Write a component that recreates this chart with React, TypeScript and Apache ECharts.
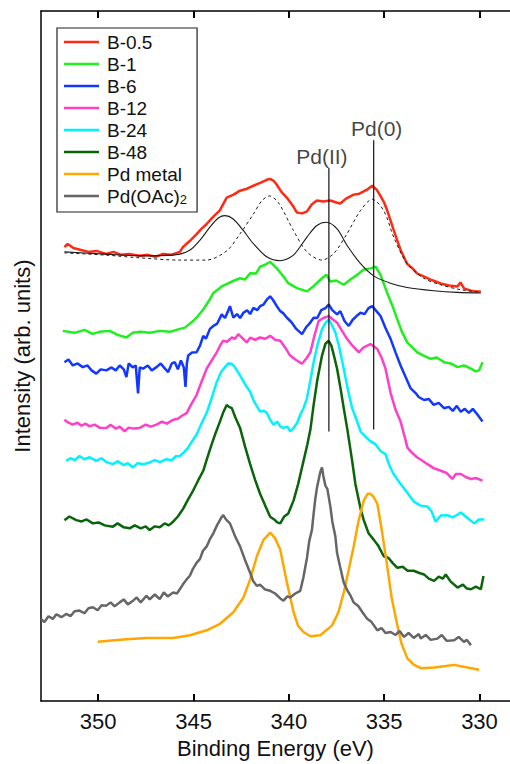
import React, { useEffect, useRef } from "react";
import * as echarts from "echarts";

// Binding energy axis (eV)
const xTicks = [350, 345, 340, 335, 330];
const xMin = 328.4;
const xMax = 353.0;
const yMin = 0;
const yMax = 699;

const seriesNames = ["B-0.5", "B-1", "B-6", "B-12", "B-24", "B-48", "Pd metal", "Pd(OAc)2"];
const seriesColors = ["#ff2a12", "#1ef01e", "#1238ff", "#ff3fc8", "#00f2ff", "#0a640a", "#ffa600", "#666666"];

// [binding energy (eV), intensity (arb. units, offset)]
const b05: number[][] = [
  [351.77, 460], [351.6, 463], [351.3, 459], [350.9, 457], [350.5, 455], [350.1, 456], [349.58, 453], [349.2, 455],
  [348.8, 452], [348.4, 453], [347.83, 451], [347.4, 452], [347.0, 450], [346.6, 453], [346.2, 452], [345.72, 455],
  [345.55, 460], [345.2, 466], [344.84, 473], [344.6, 478], [344.32, 483], [344.0, 490], [343.62, 497], [343.26, 510],
  [342.9, 513], [342.56, 517], [342.2, 519], [341.86, 522], [341.5, 525], [341.16, 528], [340.98, 529], [340.8, 527],
  [340.63, 523], [340.4, 516], [340.11, 510], [339.8, 502], [339.58, 495], [339.3, 494], [339.05, 496], [338.8, 503],
  [338.53, 507], [338.2, 506], [337.83, 507], [337.5, 505], [337.3, 504], [337.0, 509], [336.6, 513], [336.3, 514],
  [335.9, 518], [335.63, 522], [335.4, 518], [335.2, 512], [335.0, 505], [334.84, 497], [334.5, 477], [334.14, 457],
  [333.8, 443], [333.5, 438], [333.26, 433], [332.9, 430], [332.56, 427], [332.3, 425], [332.04, 423], [331.6, 421],
  [331.16, 420], [331.0, 424], [330.81, 418], [330.5, 416], [330.2, 415], [329.93, 415],
];

const fitSolid: number[][] = [
  [351.77, 455], [349.58, 452.7], [347.83, 451], [346.07, 451.7], [345.2, 456.7], [344.67, 466.7], [344.14, 480],
  [343.7, 489.3], [343.35, 491.7], [342.92, 488.3], [342.39, 476.7], [341.86, 463.3], [341.16, 450], [340.46, 446],
  [339.76, 451.7], [339.05, 470], [338.53, 481.7], [338.04, 485], [337.47, 478.3], [336.95, 461.7], [336.25, 443.3],
  [335.55, 430.7], [334.67, 423.3], [333.8, 419], [332.39, 415.7], [331.16, 414], [329.93, 413.3],
];

const fitDashed: number[][] = [
  [351.77, 454], [349.58, 451.7], [347.83, 449], [345.72, 446.7], [344.32, 446.7], [343.26, 456], [342.56, 473.3],
  [341.86, 493.3], [341.42, 506.7], [341.02, 511.7], [340.55, 505], [339.76, 476.7], [339.05, 455], [338.26, 446.7],
  [337.65, 453.3], [336.95, 473.3], [336.25, 496.7], [335.63, 508.3], [335.02, 496.7], [334.5, 470], [333.8, 443.3],
  [332.92, 428.3], [332.04, 421.7], [330.98, 416.7], [329.93, 414.3],
];

const b1: number[][] = [
  [351.86, 375], [351.24, 373], [350.72, 376], [350.3, 372], [349.93, 374], [349.4, 375], [348.98, 371], [348.52, 368.3],
  [348.19, 373], [347.82, 374], [347.29, 373], [346.77, 375], [346.24, 374], [345.72, 377], [345.45, 378.3], [345.02, 385],
  [344.77, 390], [344.49, 396.7], [344.14, 407], [343.96, 413.3], [343.52, 420], [342.99, 425], [342.56, 428.3], [342.3, 427],
  [342.03, 433.3], [341.72, 433], [341.51, 440], [341.24, 442], [340.98, 445], [340.63, 438.3], [340.28, 430], [340.03, 423.3],
  [339.57, 418.3], [339.05, 415], [338.72, 420], [338.26, 428.3], [338.03, 432], [337.82, 425], [337.51, 426], [337.12, 421.7],
  [336.77, 427], [336.42, 431.7], [336.09, 437], [335.72, 438.3], [335.45, 440], [335.19, 431.7], [334.84, 413.3], [334.56, 400],
  [334.31, 386.7], [334.09, 375], [333.79, 363.3], [333.51, 358], [333.26, 353.3], [332.93, 350], [332.56, 346.7], [332.24, 348],
  [331.86, 343.3], [331.51, 342], [331.15, 338.3], [330.82, 340], [330.45, 336.7], [330.19, 334], [330.02, 335], [329.84, 343.3],
];

const b6: number[][] = [
  [351.77, 343.3], [351.56, 346], [351.33, 340], [351.08, 342], [350.81, 338.3], [350.56, 340], [350.35, 335], [350.1, 331.7],
  [349.87, 336], [349.57, 335], [349.3, 338], [349.08, 335], [348.87, 340], [348.66, 336], [348.52, 328.3], [348.4, 342],
  [348.19, 338], [348.03, 340], [347.91, 311.7], [347.82, 338], [347.65, 336.7], [347.4, 340], [347.19, 335], [346.94, 338.3],
  [346.72, 342], [346.51, 337], [346.33, 333.3], [346.14, 342], [345.98, 343.3], [345.82, 336], [345.66, 345], [345.51, 338],
  [345.42, 318.3], [345.35, 342], [345.28, 350], [345.08, 353], [344.84, 353.3], [344.66, 360], [344.49, 370], [344.35, 367],
  [344.14, 377], [343.96, 380], [343.77, 382], [343.52, 391.7], [343.35, 388], [343.19, 395], [343.09, 400], [342.91, 388.3],
  [342.72, 392], [342.56, 388], [342.38, 393.3], [342.19, 396], [342.03, 392], [341.86, 398.3], [341.66, 396], [341.51, 400],
  [341.33, 401.7], [341.14, 407], [340.98, 410], [340.82, 406], [340.63, 400], [340.45, 395], [340.3, 393], [340.1, 388.3],
  [339.87, 384], [339.61, 377], [339.31, 371.7], [339.08, 379], [338.93, 382], [338.7, 388.3], [338.51, 388], [338.3, 396],
  [338.08, 398], [337.91, 401.7], [337.72, 396], [337.47, 391.7], [337.3, 395], [337.08, 385], [336.86, 380], [336.66, 386],
  [336.45, 390], [336.24, 393.3], [336.03, 392], [335.82, 398], [335.63, 400], [335.45, 396], [335.19, 390], [334.93, 378],
  [334.66, 366.7], [334.4, 353], [334.14, 340], [333.87, 328], [333.61, 316.7], [333.35, 312], [333.19, 308], [332.91, 305],
  [332.66, 306], [332.4, 300], [332.14, 302], [331.86, 296.7], [331.61, 298], [331.4, 294], [331.19, 299], [330.98, 293],
  [330.77, 296], [330.56, 292], [330.35, 296], [330.1, 290], [329.84, 283.3],
];

const b12: number[][] = [
  [351.77, 285], [351.56, 282], [351.33, 280], [351.08, 282], [350.87, 279], [350.66, 281], [350.45, 278.3], [350.19, 280],
  [349.93, 277], [349.57, 276.7], [349.35, 280], [349.08, 276], [348.87, 278], [348.61, 273.3], [348.4, 277], [348.14, 276],
  [347.82, 276.7], [347.51, 280], [347.24, 278], [346.94, 280], [346.66, 283], [346.4, 281], [346.07, 285], [345.82, 286],
  [345.61, 289], [345.36, 291.7], [345.14, 300], [344.84, 310], [344.61, 322], [344.31, 336.7], [344.08, 344], [343.78, 353.3],
  [343.61, 360], [343.44, 365], [343.24, 364], [342.99, 368.3], [342.82, 367], [342.65, 371.7], [342.45, 368], [342.21, 363.3],
  [342.03, 368], [341.77, 366], [341.51, 368.3], [341.24, 367], [340.98, 370], [340.72, 366], [340.45, 365], [340.19, 358],
  [339.93, 350], [339.66, 346], [339.31, 341.7], [339.08, 347], [338.87, 353.3], [338.66, 370], [338.44, 385], [338.19, 388],
  [337.91, 390], [337.72, 387], [337.47, 383.3], [337.24, 376], [336.94, 366.7], [336.66, 360], [336.33, 353.3], [336.09, 358],
  [335.72, 361.7], [335.36, 356.7], [335.14, 348], [334.93, 336.7], [334.66, 312], [334.4, 295], [334.14, 283.3], [333.93, 268],
  [333.78, 256.7], [333.56, 252], [333.26, 246.7], [333.03, 244], [332.73, 240], [332.4, 236], [332.03, 233.3], [331.72, 231],
  [331.42, 225], [331.24, 230], [330.98, 230], [330.72, 227], [330.45, 225], [330.19, 226], [329.84, 223.3],
];

const b24: number[][] = [
  [351.68, 243.3], [351.45, 246], [351.24, 244], [350.98, 248.3], [350.72, 245], [350.45, 247], [350.1, 243.3], [349.82, 246],
  [349.56, 242], [349.23, 240], [348.98, 243], [348.66, 239], [348.45, 241], [348.17, 236.7], [347.93, 241], [347.61, 240],
  [347.3, 241.7], [347.03, 244], [346.77, 242], [346.42, 245], [346.14, 244], [345.93, 248], [345.72, 248.3], [345.51, 252],
  [345.28, 256.7], [345.08, 263], [344.84, 270], [344.61, 280], [344.31, 292], [344.08, 305], [343.78, 323.3], [343.56, 333],
  [343.35, 338.3], [343.19, 342], [342.99, 341.7], [342.82, 338], [342.56, 330], [342.3, 321], [342.03, 313.3], [341.88, 306],
  [341.72, 300], [341.51, 293.3], [341.3, 294], [341.16, 292], [340.98, 285], [340.8, 280], [340.61, 283], [340.45, 278.3],
  [340.28, 276.7], [340.08, 278], [339.93, 273.3], [339.75, 276.7], [339.56, 282], [339.4, 290], [339.23, 296.7], [339.05, 306.7],
  [338.87, 325], [338.7, 343.3], [338.51, 360], [338.26, 376.7], [338.08, 383], [337.91, 386.7], [337.77, 382], [337.56, 373.3],
  [337.35, 358], [337.12, 336.7], [336.93, 318], [336.68, 296.7], [336.45, 285], [336.24, 273.3], [336.0, 268], [335.72, 263.3],
  [335.45, 260], [335.19, 253.3], [334.93, 250], [334.75, 240], [334.51, 230], [334.14, 220], [333.82, 212], [333.44, 202],
  [333.09, 198], [332.73, 197], [332.51, 192], [332.3, 181.7], [332.03, 188], [331.68, 188.3], [331.4, 186], [330.98, 191],
  [330.66, 186], [330.28, 180], [330.03, 184], [329.75, 184],
];

const b48: number[][] = [
  [351.77, 183.3], [351.51, 187], [351.15, 183.3], [350.87, 182], [350.61, 184], [350.28, 180], [349.98, 181], [349.66, 178],
  [349.23, 176.7], [348.98, 180], [348.66, 176], [348.35, 175], [348.08, 178], [347.77, 175], [347.51, 177], [347.3, 173.3],
  [347.03, 177], [346.77, 176], [346.51, 180], [346.3, 178], [346.07, 181.7], [345.82, 187], [345.54, 195], [345.29, 204],
  [345.02, 213.3], [344.77, 223], [344.49, 233.3], [344.3, 245], [344.05, 260], [343.87, 270], [343.61, 283.3], [343.45, 292],
  [343.26, 300], [343.14, 298], [342.99, 296.7], [342.82, 288], [342.56, 276.7], [342.3, 258], [342.03, 240], [341.77, 224],
  [341.51, 210], [341.24, 198], [340.98, 186.7], [340.77, 184], [340.61, 181], [340.45, 180], [340.24, 187], [340.03, 190],
  [339.75, 203.3], [339.51, 220], [339.23, 243.3], [339.03, 260], [338.87, 275], [338.7, 300], [338.51, 325], [338.26, 350],
  [338.08, 362], [337.91, 365], [337.77, 360], [337.61, 348], [337.47, 336.7], [337.3, 318], [337.12, 296.7], [336.93, 275],
  [336.68, 243.3], [336.51, 220], [336.24, 195], [336.07, 183.3], [335.82, 170], [335.54, 163.3], [335.3, 157], [335.02, 146.7],
  [334.77, 145], [334.56, 140], [334.31, 135], [334.03, 136], [333.77, 132], [333.45, 132], [333.19, 130], [332.91, 128.3],
  [332.66, 124], [332.38, 121.7], [332.14, 126], [331.93, 124], [331.77, 128.3], [331.51, 121], [331.15, 115], [330.87, 118],
  [330.66, 114], [330.45, 113.3], [330.19, 116], [329.93, 113.3], [329.79, 126.7],
];

const pdMetal: number[][] = [
  [350.02, 60], [348.52, 62.7], [347.47, 64], [346.07, 64], [345.19, 66.7], [344.31, 71.7], [343.61, 78.3], [342.91, 90],
  [342.38, 105], [342.03, 123.3], [341.68, 146.7], [341.33, 163.3], [340.98, 170.7], [340.72, 165], [340.45, 153.3],
  [340.1, 120], [339.75, 90], [339.51, 76], [339.23, 70], [338.87, 65.7], [338.35, 66.7], [337.73, 76.7], [337.4, 90],
  [337.12, 110], [336.87, 132], [336.6, 156.7], [336.35, 182], [336.07, 203.3], [335.87, 210], [335.72, 210], [335.56, 207],
  [335.36, 200], [335.14, 175], [334.84, 136.7], [334.61, 105], [334.31, 76.7], [334.09, 58], [333.78, 43.3], [333.45, 37],
  [333.08, 33.3], [332.38, 34], [331.77, 35.5], [331.33, 36.7], [330.63, 34], [330.02, 31.7],
];

const pdOAc2: number[][] = [
  [353.0, 83.3], [352.82, 80], [352.61, 86], [352.38, 83.3], [352.19, 88], [351.93, 85], [351.68, 88.3], [351.45, 86],
  [351.24, 91], [350.98, 91.7], [350.72, 89], [350.51, 94], [350.28, 95], [350.03, 92], [349.82, 97], [349.57, 96.7],
  [349.35, 100], [349.14, 96], [348.87, 100], [348.66, 103], [348.45, 98], [348.17, 101.7], [347.98, 105], [347.77, 100],
  [347.47, 106.7], [347.3, 103], [347.03, 108], [346.77, 103.3], [346.56, 110], [346.35, 106], [346.07, 110], [345.87, 109],
  [345.72, 113.3], [345.56, 118], [345.36, 123.3], [345.19, 127], [345.03, 134], [344.84, 140], [344.66, 144], [344.51, 152],
  [344.31, 156.7], [344.14, 164], [343.96, 170], [343.77, 178], [343.52, 186.7], [343.44, 188.3], [343.3, 184], [343.09, 180],
  [342.82, 167], [342.56, 156.7], [342.3, 143], [342.03, 130], [341.88, 122], [341.68, 116.7], [341.51, 118], [341.24, 113],
  [340.98, 111.7], [340.72, 109], [340.45, 104], [340.28, 101.7], [340.08, 106], [339.93, 105], [339.66, 109], [339.4, 111.7],
  [339.24, 125], [339.05, 145], [338.93, 162], [338.79, 173.3], [338.7, 190], [338.61, 205], [338.52, 216.7], [338.44, 224],
  [338.35, 232], [338.26, 236.7], [338.19, 228], [338.08, 218], [337.98, 215], [337.82, 196.7], [337.72, 182], [337.56, 166.7],
  [337.47, 150], [337.3, 135], [337.12, 120], [336.93, 112], [336.77, 107], [336.6, 100], [336.35, 96], [336.14, 90],
  [335.89, 83.3], [335.66, 80], [335.36, 71.7], [335.14, 74], [334.93, 69], [334.66, 70], [334.4, 67], [334.19, 71],
  [333.96, 65], [333.72, 69], [333.45, 64], [333.19, 68], [333.08, 63.3], [332.82, 67], [332.56, 62], [332.21, 63.3],
  [331.98, 67], [331.72, 61], [331.33, 61.7], [331.09, 65], [330.82, 60], [330.66, 62], [330.45, 56.7],
];

const seriesData = [b05, b1, b6, b12, b24, b48, pdMetal, pdOAc2];

// Reference lines for Pd(II) and Pd(0): energy, bottom, top
const refLabels = ["Pd(II)", "Pd(0)"];
const refEnergies = [337.9, 335.55];
const refBottoms = [273, 275];
const refTops = [540, 568];

const FONT = "'Liberation Sans', Arial, Helvetica, sans-serif";

export default function App() {
  const ref = useRef<HTMLDivElement>(null);

  useEffect(() => {
    if (!ref.current) return;
    const chart = echarts.init(ref.current, undefined, { renderer: "svg" });

    const mainSeries: any[] = seriesNames.map((name, i) => ({
      name,
      type: "line",
      data: seriesData[i],
      showSymbol: false,
      symbol: "none",
      lineStyle: { color: seriesColors[i], width: 2.5 },
      itemStyle: { color: seriesColors[i] },
      z: 3,
    }));

    const fitSeries: any[] = [
      {
        name: "fit-solid",
        type: "line",
        data: fitSolid,
        showSymbol: false,
        symbol: "none",
        smooth: 0.3,
        lineStyle: { color: "#1a1a1a", width: 1.1 },
        z: 4,
      },
      {
        name: "fit-dashed",
        type: "line",
        data: fitDashed,
        showSymbol: false,
        symbol: "none",
        smooth: 0.3,
        lineStyle: { color: "#1a1a1a", width: 1, type: [3, 3] },
        z: 4,
      },
    ];

    const refSeries: any[] = refLabels.map((lab, i) => ({
      name: lab,
      type: "line",
      data: [
        [refEnergies[i], refBottoms[i]],
        [refEnergies[i], refTops[i]],
      ],
      showSymbol: false,
      symbol: "none",
      lineStyle: { color: "#111", width: 1.2 },
      z: 5,
    }));

    const labelSeries: any = {
      name: "ref-labels",
      type: "scatter",
      symbol: "circle",
      symbolSize: 1,
      itemStyle: { color: "rgba(0,0,0,0)" },
      data: refLabels.map((lab, i) => ({
        value: [refEnergies[i], refTops[i]],
        label: {
          show: true,
          position: "top",
          distance: 0,
          formatter: lab,
          offset: [i === 0 ? -7 : 3, 0],
          fontSize: 21,
          lineHeight: 22,
          color: "#111",
          fontFamily: FONT,
        },
      })),
      z: 6,
    };

    const tickStyle = {
      show: true,
      inside: true,
      length: 7,
      customValues: xTicks,
      lineStyle: { color: "#000", width: 2 },
    };

    chart.setOption({
      animation: false,
      backgroundColor: "#ffffff",
      grid: { left: 41, right: 0, top: 11, bottom: 54, containLabel: false },
      legend: {
        data: seriesNames,
        orient: "vertical",
        left: 57,
        top: 28,
        padding: [4, 10, 6, 7],
        itemGap: 2,
        itemWidth: 35,
        itemHeight: 14,
        backgroundColor: "#ffffff",
        borderColor: "#222",
        borderWidth: 1.2,
        borderRadius: 0,
        selectedMode: false,
        icon: "path://M0,5.8 L35,5.8 L35,8.2 L0,8.2 Z",
        formatter: (name: string) => (name === "Pd(OAc)2" ? "Pd(OAc){sub|2}" : name),
        textStyle: {
          fontSize: 19,
          lineHeight: 20,
          color: "#111",
          fontFamily: FONT,
          padding: [0, 0, 0, 3],
          rich: {
            sub: { fontSize: 13, lineHeight: 10, verticalAlign: "bottom", color: "#111", fontFamily: FONT },
          },
        },
      },
      xAxis: [
        {
          type: "value",
          position: "bottom",
          min: xMin,
          max: xMax,
          inverse: true,
          name: "Binding Energy (eV)",
          nameLocation: "middle",
          nameGap: 30,
          nameTextStyle: { fontSize: 22, color: "#111", fontFamily: FONT },
          axisLine: { show: true, onZero: false, lineStyle: { color: "#000", width: 1.5 } },
          axisTick: tickStyle,
          axisLabel: {
            show: true,
            customValues: xTicks,
            fontSize: 22,
            color: "#111",
            fontFamily: FONT,
            margin: 9,
          },
          splitLine: { show: false },
        },
        {
          type: "value",
          position: "top",
          min: xMin,
          max: xMax,
          inverse: true,
          axisLine: { show: true, onZero: false, lineStyle: { color: "#000", width: 1.5 } },
          axisTick: tickStyle,
          axisLabel: { show: false, customValues: xTicks },
          splitLine: { show: false },
        },
      ],
      yAxis: {
        type: "value",
        min: yMin,
        max: yMax,
        name: "Intensity (arb. units)",
        nameLocation: "middle",
        nameGap: 8,
        nameTextStyle: { fontSize: 22, color: "#111", fontFamily: FONT },
        axisLine: { show: true, onZero: false, lineStyle: { color: "#000", width: 1.5 } },
        axisTick: { show: false },
        axisLabel: { show: false },
        splitLine: { show: false },
      },
      series: [...mainSeries, ...fitSeries, ...refSeries, labelSeries],
    });

    return () => chart.dispose();
  }, []);

  return (
    <div
      ref={ref}
      style={{ position: "fixed", left: 0, top: 0, width: 510, height: 764, background: "#fff" }}
    />
  );
}
